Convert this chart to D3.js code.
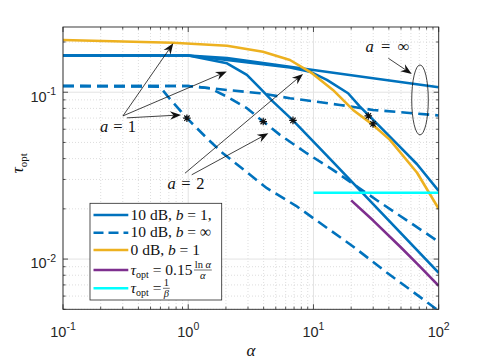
<!DOCTYPE html>
<html><head><meta charset="utf-8">
<script src="https://cdn.jsdelivr.net/npm/d3@7"></script>
<style>body{margin:0;background:#fff}svg{display:block}</style>
</head><body>
<svg id="c" width="485" height="363"></svg>
<script>
// ---------- data (alpha, tau_opt) ----------
const alphaInfSolid = [0.1, 1, 2.04, 6.49, 29.9, 100];
const tauInfSolid   = [0.166, 0.166, 0.1605, 0.1423, 0.1213, 0.1072];

const alphaA1Solid = [0.1, 1, 2.04, 2.94, 3.74, 4.75, 6.86, 13.8, 100];
const tauA1Solid   = [0.166, 0.166, 0.149, 0.127, 0.1057, 0.0879, 0.0678, 0.0393, 0.00828];

const alphaA2Solid = [0.1, 1, 2.04, 6.49, 9.37, 12.8, 18.9, 23.5, 27.9, 46.5, 67.2, 100];
const tauA2Solid   = [0.166, 0.166, 0.156, 0.1408, 0.1329, 0.1185, 0.0986, 0.0820, 0.0721, 0.0490, 0.0370, 0.0256];

const alphaInfDash = [0.1, 1, 2.04, 3.74, 6.49, 16.3, 29.9, 100];
const tauInfDash   = [0.109, 0.109, 0.1032, 0.0986, 0.0921, 0.0839, 0.0783, 0.0726];

const alphaA1Dash = [0.1, 0.594, 0.689, 0.976, 1.41, 1.89, 4.25, 7.25, 20.7, 38.7, 100];
const tauA1Dash   = [0.109, 0.108, 0.0941, 0.0699, 0.0530, 0.0431, 0.0266, 0.02086, 0.0119, 0.00828, 0.0049];

const alphaA2Dash = [0.1, 1, 1.49, 2.04, 2.94, 3.97, 5.40, 8.83, 14.1, 32.7, 100];
const tauA2Dash   = [0.109, 0.109, 0.1057, 0.0941, 0.0802, 0.0667, 0.0555, 0.0431, 0.0345, 0.0223, 0.0127];

const alpha0dB = [0.1, 0.755, 2.04, 3.95, 6.49, 9.73, 14.3, 20.7, 29.9, 40.8, 67.2, 100];
const tau0dB   = [0.2056, 0.198, 0.190, 0.175, 0.156, 0.130, 0.1032, 0.0783, 0.0637, 0.0518, 0.0329, 0.020];

const alphaLn = [20, 30, 50, 70, 100];
const tauLn   = [0.02247, 0.01701, 0.01174, 0.00910, 0.006908];

const alphaBeta = [10, 100];
const tauBeta   = [0.025, 0.025];

const starAlpha = [0.976, 3.97, 6.86, 27.4, 29.9];
const starTau   = [0.0699, 0.0667, 0.0678, 0.0721, 0.0646];

const xTickVals = [0.1, 1, 10, 100];
const xTickExp  = ["-1", "0", "1", "2"];
const yTickVals = [0.01, 0.1];
const yTickExp  = ["-2", "-1"];

// annotations in data coords: [alpha, tau]
const lblA1 = [0.275, 0.0581], lblA2 = [0.960, 0.0262], lblInf = [39.0, 0.175];
const arrowsFrom = [[0.301,0.0721],[0.301,0.0721],[0.324,0.0702],[0.942,0.0327],[1.066,0.0320],[39.6,0.1598]];
const arrowsTo   = [[0.760,0.1965],[2.03,0.1332],[0.876,0.0731],[8.25,0.1287],[4.36,0.0568],[60.9,0.1287]];
const ellipseAlpha = [60.9, 82.6], ellipseTau = [0.0555, 0.1457];

// ---------- scales ----------
const L = 63, R = 438.7, T = 27, B = 309.3;
const x = d3.scaleLog().domain([0.1, 100]).range([L, R]);
const y = d3.scaleLog().domain([0.005, 0.246]).range([B, T]);
const svg = d3.select('#c');
const axisCol = '#262626';

// ---------- grid ----------
const xMinor = [], yMinor = [];
[0.1, 1, 10].forEach(d => { for (let k = 2; k < 10; k++) xMinor.push(d * k); });
[0.001, 0.01, 0.1].forEach(d => { for (let k = 2; k < 10; k++) { const v = d * k; if (v >= 0.005 && v <= 0.246) yMinor.push(v); } });

const g = svg.append('g');
g.selectAll('.xm').data(xMinor).join('line')
  .attr('x1', d => x(d)).attr('x2', d => x(d)).attr('y1', T).attr('y2', B)
  .attr('stroke', '#cfcfcf').attr('stroke-width', 0.7).attr('stroke-dasharray', '1,2');
g.selectAll('.ym').data(yMinor).join('line')
  .attr('y1', d => y(d)).attr('y2', d => y(d)).attr('x1', L).attr('x2', R)
  .attr('stroke', '#cfcfcf').attr('stroke-width', 0.7).attr('stroke-dasharray', '1,2');
g.selectAll('.xM').data(xTickVals).join('line')
  .attr('x1', d => x(d)).attr('x2', d => x(d)).attr('y1', T).attr('y2', B)
  .attr('stroke', '#e3e3e3').attr('stroke-width', 1);
g.selectAll('.yM').data(yTickVals).join('line')
  .attr('y1', d => y(d)).attr('y2', d => y(d)).attr('x1', L).attr('x2', R)
  .attr('stroke', '#e3e3e3').attr('stroke-width', 1);

// ---------- curves ----------
svg.append('clipPath').attr('id', 'clip').append('rect')
  .attr('x', L).attr('y', T).attr('width', R - L).attr('height', B - T);
const plot = svg.append('g').attr('clip-path', 'url(#clip)');
const line = d3.line().x(d => x(d[0])).y(d => y(d[1]));
const zip = (a, b) => a.map((v, i) => [v, b[i]]);
const series = [
  {a: alphaInfSolid, t: tauInfSolid, c: '#0072BD', dash: null},
  {a: alphaA1Solid, t: tauA1Solid, c: '#0072BD', dash: null},
  {a: alphaA2Solid, t: tauA2Solid, c: '#0072BD', dash: null},
  {a: alphaInfDash, t: tauInfDash, c: '#0072BD', dash: '11,6'},
  {a: alphaA1Dash, t: tauA1Dash, c: '#0072BD', dash: '11,6'},
  {a: alphaA2Dash, t: tauA2Dash, c: '#0072BD', dash: '11,6'},
  {a: alpha0dB, t: tau0dB, c: '#EDB120', dash: null},
  {a: alphaLn, t: tauLn, c: '#7E2F8E', dash: null},
  {a: alphaBeta, t: tauBeta, c: '#00FFFF', dash: null}
];
series.forEach(s => {
  plot.append('path').attr('d', line(zip(s.a, s.t)))
    .attr('fill', 'none').attr('stroke', s.c).attr('stroke-width', 2.6)
    .attr('stroke-dasharray', s.dash).attr('stroke-linejoin', 'round');
});

// stars
const starG = plot.append('g');
zip(starAlpha, starTau).forEach(p => {
  const cx = x(p[0]), cy = y(p[1]), r = 3.8, r2 = 2.7;
  const dpath = `M${cx-r},${cy}L${cx+r},${cy}M${cx},${cy-r}L${cx},${cy+r}` +
    `M${cx-r2},${cy-r2}L${cx+r2},${cy+r2}M${cx-r2},${cy+r2}L${cx+r2},${cy-r2}`;
  starG.append('path').attr('d', dpath).attr('stroke', '#111').attr('stroke-width', 1.2).attr('fill', 'none');
});

// ---------- axes box & ticks ----------
const ax = svg.append('g');
ax.append('rect').attr('x', L).attr('y', T).attr('width', R - L).attr('height', B - T)
  .attr('fill', 'none').attr('stroke', axisCol).attr('stroke-width', 0.9);
const tick = (x1, y1, x2, y2) => ax.append('line').attr('x1', x1).attr('y1', y1).attr('x2', x2).attr('y2', y2)
  .attr('stroke', axisCol).attr('stroke-width', 0.8);
xTickVals.forEach(d => { tick(x(d), B, x(d), B - 5); tick(x(d), T, x(d), T + 5); });
xMinor.forEach(d => { tick(x(d), B, x(d), B - 2.6); tick(x(d), T, x(d), T + 2.6); });
yTickVals.forEach(d => { tick(L, y(d), L + 5, y(d)); tick(R, y(d), R - 5, y(d)); });
yMinor.forEach(d => { tick(L, y(d), L + 2.6, y(d)); tick(R, y(d), R - 2.6, y(d)); });

const sans = 'Liberation Sans, Arial, sans-serif';
xTickVals.forEach((d, i) => {
  const t = ax.append('text').attr('x', x(d)).attr('y', 336.5).attr('text-anchor', 'middle')
    .attr('font-family', sans).attr('font-size', 14.5).attr('fill', axisCol);
  t.append('tspan').text('10');
  t.append('tspan').attr('dy', -6.5).attr('font-size', 10.5).text(xTickExp[i]);
});
yTickVals.forEach((d, i) => {
  const t = ax.append('text').attr('x', 56).attr('y', y(d) + 9.4).attr('text-anchor', 'end')
    .attr('font-family', sans).attr('font-size', 14.5).attr('fill', axisCol);
  t.append('tspan').text('10');
  t.append('tspan').attr('dy', -6.5).attr('font-size', 10.5).text(yTickExp[i]);
});

const serif = 'Liberation Serif, Times New Roman, serif';
// axis labels
svg.append('text').attr('x', (L + R) / 2).attr('y', 356).attr('text-anchor', 'middle')
  .attr('font-family', serif).attr('font-style', 'italic').attr('font-size', 17).attr('fill', '#111').text('α');
const yl = svg.append('text').attr('transform', `translate(23,${(T + B) / 2 - 5}) rotate(-90)`)
  .attr('text-anchor', 'middle').attr('font-family', serif).attr('fill', '#111');
yl.append('tspan').attr('font-style', 'italic').attr('font-size', 17).text('τ');
yl.append('tspan').attr('font-size', 11).attr('dy', 3.5).text('opt');

// ---------- annotations ----------
const ann = svg.append('g');
function arrow(p0, p1) {
  const x0 = x(p0[0]), y0 = y(p0[1]), x1 = x(p1[0]), y1 = y(p1[1]);
  const dx = x1 - x0, dy = y1 - y0, len = Math.hypot(dx, dy), ux = dx / len, uy = dy / len;
  const Lh = 11, Wh = 4.2, notch = 7.5;
  const bx = x1 - ux * Lh, by = y1 - uy * Lh;
  const nx = x1 - ux * notch, ny = y1 - uy * notch;
  ann.append('line').attr('x1', x0).attr('y1', y0).attr('x2', nx).attr('y2', ny)
    .attr('stroke', '#111').attr('stroke-width', 0.8);
  ann.append('path').attr('d', `M${x1},${y1}L${bx - uy * Wh},${by + ux * Wh}L${nx},${ny}L${bx + uy * Wh},${by - ux * Wh}Z`)
    .attr('fill', '#111');
}
arrowsFrom.forEach((p, i) => arrow(p, arrowsTo[i]));
ann.append('ellipse')
  .attr('cx', (x(ellipseAlpha[0]) + x(ellipseAlpha[1])) / 2)
  .attr('cy', (y(ellipseTau[0]) + y(ellipseTau[1])) / 2)
  .attr('rx', (x(ellipseAlpha[1]) - x(ellipseAlpha[0])) / 2)
  .attr('ry', (y(ellipseTau[0]) - y(ellipseTau[1])) / 2)
  .attr('fill', 'none').attr('stroke', '#111').attr('stroke-width', 0.8);

function mathLabel(p, rhs, w) {
  const t = ann.append('text').attr('x', x(p[0])).attr('y', y(p[1])).attr('text-anchor', 'middle')
    .attr('font-family', serif).attr('font-size', 16.5).attr('fill', '#111')
    .attr('textLength', w).attr('lengthAdjust', 'spacing');
  t.append('tspan').attr('font-style', 'italic').text('a');
  t.append('tspan').text(' = ' + rhs);
}
mathLabel(lblA1, '1', 36);
mathLabel(lblA2, '2', 37);
mathLabel(lblInf, '∞', 44);

// ---------- legend ----------
const lg = svg.append('g');
lg.append('rect').attr('x', 90).attr('y', 203.3).attr('width', 131.7).attr('height', 96.7)
  .attr('fill', '#fff').attr('stroke', axisCol).attr('stroke-width', 0.8);
const rows = [215, 232.7, 250, 270, 288.3];
const legStyle = [
  {c: '#0072BD', dash: null}, {c: '#0072BD', dash: '10,5'}, {c: '#EDB120', dash: null},
  {c: '#7E2F8E', dash: null}, {c: '#00FFFF', dash: null}];
rows.forEach((ry, i) => {
  lg.append('line').attr('x1', 93.5).attr('x2', 128.3).attr('y1', ry).attr('y2', ry)
    .attr('stroke', legStyle[i].c).attr('stroke-width', 2.6).attr('stroke-dasharray', legStyle[i].dash);
});
function ltext(i) {
  return lg.append('text').attr('x', 130.5).attr('y', rows[i] + 4.7)
    .attr('font-family', serif).attr('font-size', 15.5).attr('fill', '#111');
}
let t;
t = ltext(0); t.append('tspan').text('10 dB, '); t.append('tspan').attr('font-style', 'italic').text('b'); t.append('tspan').text(' = 1,');
t = ltext(1); t.append('tspan').text('10 dB, '); t.append('tspan').attr('font-style', 'italic').text('b'); t.append('tspan').text(' = ∞');
t = ltext(2); t.append('tspan').text('0 dB, '); t.append('tspan').attr('font-style', 'italic').text('b'); t.append('tspan').text(' = 1');
function tauOpt(i, rest) {
  const tt = ltext(i);
  tt.append('tspan').attr('font-style', 'italic').text('τ');
  tt.append('tspan').attr('font-size', 10).attr('dy', 3).text('opt');
  tt.append('tspan').attr('dy', -3).text(' = ' + rest);
  return tt;
}
function frac(tt, i, num, numItalic, den) {
  const x0 = 130.5 + tt.node().getComputedTextLength() + 1.5;
  const bar = rows[i];
  const n = lg.append('text').attr('y', bar - 2).attr('font-family', serif).attr('font-size', 10.5).attr('fill', '#111');
  num.forEach((s, k) => n.append('tspan').attr('font-style', numItalic[k] ? 'italic' : 'normal').text(s));
  const d = lg.append('text').attr('y', bar + 8.5).attr('font-family', serif).attr('font-size', 10.5)
    .attr('font-style', 'italic').attr('fill', '#111').text(den);
  const wn = n.node().getComputedTextLength(), wd = d.node().getComputedTextLength();
  const w = Math.max(wn, wd) + 1.5;
  n.attr('x', x0 + (w - wn) / 2);
  d.attr('x', x0 + (w - wd) / 2);
  lg.append('line').attr('x1', x0).attr('x2', x0 + w).attr('y1', bar).attr('y2', bar)
    .attr('stroke', '#111').attr('stroke-width', 0.6);
}
t = tauOpt(3, '0.15');
frac(t, 3, ['ln ', 'α'], [false, true], 'α');
t = tauOpt(4, '');
frac(t, 4, ['1'], [false], 'β');
</script>
</body></html>
